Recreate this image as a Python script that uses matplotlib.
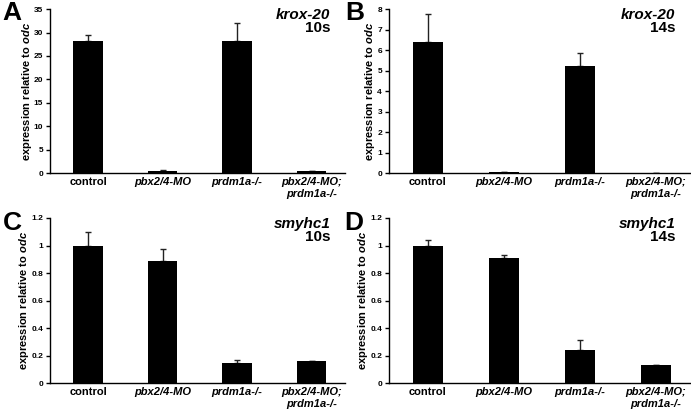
import matplotlib.pyplot as plt

plt.rcParams['font.family'] = 'Liberation Sans'
plt.rcParams['font.weight'] = 'bold'
plt.rcParams['mathtext.fontset'] = 'custom'
plt.rcParams['mathtext.rm'] = 'Liberation Sans:bold'
plt.rcParams['mathtext.it'] = 'Liberation Sans:italic:bold'

# categories
categories = ['control', 'pbx2/4-MO', 'prdm1a-/-', 'pbx2/4-MO;\nprdm1a-/-']
italic_cat = [False, True, True, True]

# values
krox_10s = [28.2, 0.45, 28.2, 0.4]
krox_10s_err = [1.3, 0.15, 3.9, 0.1]
krox_14s = [6.4, 0.03, 5.22, 0.01]
krox_14s_err = [1.35, 0.0, 0.62, 0.0]
smyhc_10s = [1.0, 0.89, 0.148, 0.158]
smyhc_10s_err = [0.1, 0.083, 0.018, 0.004]
smyhc_14s = [1.0, 0.912, 0.243, 0.131]
smyhc_14s_err = [0.037, 0.02, 0.067, 0.004]

ticks_A = [0, 5, 10, 15, 20, 25, 30, 35]
ticks_B = [0, 1, 2, 3, 4, 5, 6, 7, 8]
ticks_CD = [0, 0.2, 0.4, 0.6, 0.8, 1, 1.2]
ticklabels_CD = ['0', '0.2', '0.4', '0.6', '0.8', '1', '1.2']

panels = [
    ('A', krox_10s, krox_10s_err, ticks_A, [str(t) for t in ticks_A], 'krox-20', '10s',
     [0.0724, 0.584, 0.427, 0.394], (0.004, 0.997)),
    ('B', krox_14s, krox_14s_err, ticks_B, [str(t) for t in ticks_B], 'krox-20', '14s',
     [0.563, 0.584, 0.436, 0.394], (0.500, 0.997)),
    ('C', smyhc_10s, smyhc_10s_err, ticks_CD, ticklabels_CD, 'smyhc1', '10s',
     [0.0724, 0.079, 0.427, 0.397], (0.004, 0.493)),
    ('D', smyhc_14s, smyhc_14s_err, ticks_CD, ticklabels_CD, 'smyhc1', '14s',
     [0.563, 0.079, 0.436, 0.397], (0.498, 0.493)),
]

fig = plt.figure(figsize=(6.91, 4.16), dpi=100)

for letter, vals, errs, ticks, labels, gene, stage, pos, lpos in panels:
    ax = fig.add_axes(pos)
    x = range(len(categories))
    ax.bar(x, vals, width=0.4, color='black', zorder=2)
    ax.errorbar(x, vals, yerr=[[0] * len(errs), errs], fmt='none', ecolor='#222222',
                elinewidth=1, capsize=2.5, capthick=1, zorder=1)
    ax.set_xlim(-0.51, 3.45)
    ax.set_ylim(ticks[0], ticks[-1])
    ax.set_yticks(ticks)
    ax.set_yticklabels(labels, fontsize=6, fontweight='bold')
    ax.set_xticks(list(x))
    ax.set_xticklabels(categories, fontsize=8, fontweight='bold')
    for lab, it in zip(ax.get_xticklabels(), italic_cat):
        if it:
            lab.set_fontstyle('italic')
    ax.tick_params(axis='x', length=0, pad=3)
    ax.tick_params(axis='y', length=3, width=1, pad=2)
    for s in ['top', 'right']:
        ax.spines[s].set_visible(False)
    ax.spines['left'].set_linewidth(1)
    ax.spines['bottom'].set_linewidth(1)
    ax.set_ylabel('expression relative to $odc$', fontsize=8, fontweight='bold', labelpad=0)
    ax.text(0.95, 0.963, gene, transform=ax.transAxes, ha='right', va='center',
            fontsize=11, fontweight='bold', fontstyle='italic')
    ax.text(0.95, 0.884, stage, transform=ax.transAxes, ha='right', va='center',
            fontsize=11, fontweight='bold')
    fig.text(lpos[0], lpos[1], letter, ha='left', va='top',
             fontsize=19, fontweight='bold')

fig.savefig('out.png', dpi=100)
